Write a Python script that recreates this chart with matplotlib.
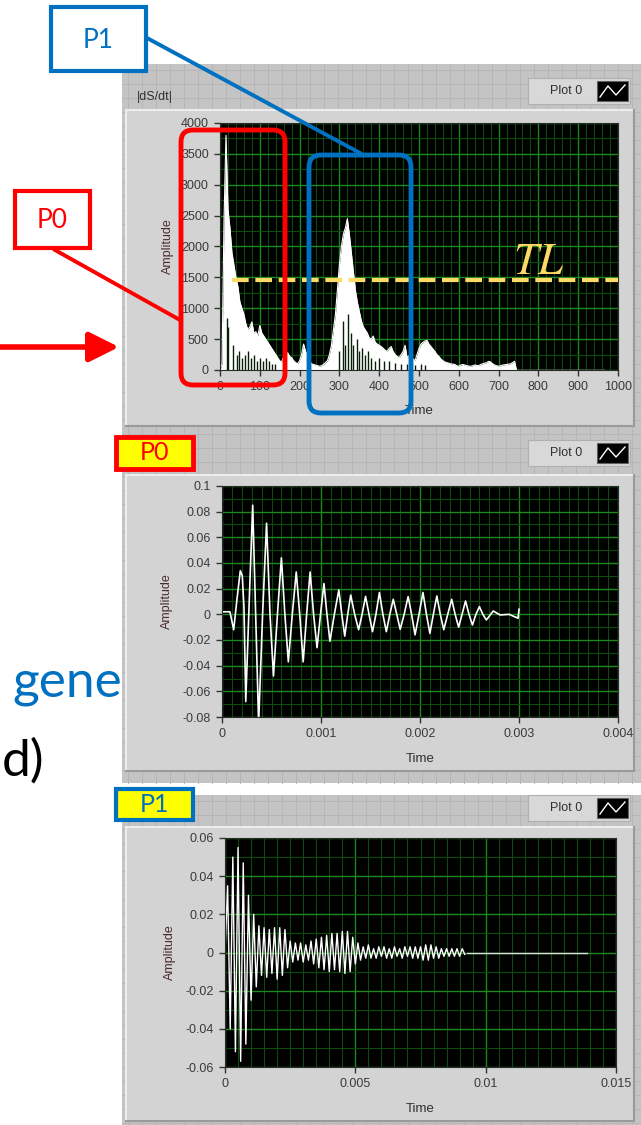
import numpy as np
import matplotlib
matplotlib.use("Agg")
import matplotlib.pyplot as plt
from matplotlib.patches import Rectangle, FancyBboxPatch
from matplotlib.ticker import MultipleLocator

plt.rcParams['font.family'] = ['Liberation Sans', 'DejaVu Sans']

W, H = 641, 1125

# |dS/dt| trace, one sample every 5 time units (0 .. 745)
top_step = 5
top_amp = [0, 100, 2400, 3800, 2600, 2300, 1900, 1700, 1500, 1350,
           1100, 1000, 900, 750, 650, 700, 780, 600, 620, 550,
           720, 600, 550, 500, 450, 400, 350, 300, 250, 200,
           150, 130, 220, 270, 280, 220, 200, 150, 120, 100,
           150, 250, 420, 300, 250, 150, 100, 90, 80, 70,
           60, 70, 90, 120, 150, 250, 400, 650, 900, 1300,
           1700, 2000, 2200, 2300, 2450, 2200, 1900, 1600, 1300, 1100,
           950, 800, 700, 650, 600, 520, 500, 550, 450, 420,
           400, 380, 350, 320, 300, 350, 380, 300, 250, 220,
           200, 250, 300, 400, 200, 230, 250, 180, 150, 250,
           350, 420, 450, 470, 480, 420, 380, 340, 300, 250,
           220, 180, 150, 130, 120, 110, 100, 95, 90, 70,
           60, 80, 90, 80, 70, 65, 60, 70, 80, 75,
           70, 90, 100, 110, 120, 140, 130, 100, 80, 70,
           60, 70, 80, 85, 90, 95, 100, 120, 140, 0]
top_tail_t = [745, 965]
top_tail_amp = [0, 0]
# dark gaps inside the white trace
streak_t = [17, 20, 33, 42, 48, 55, 62, 70, 78, 85, 92, 100, 108, 115, 122, 130, 138,
            300, 308, 313, 322, 328, 335, 343, 350, 358, 365, 372, 380, 390, 400,
            412, 425, 440, 455, 470, 490, 505, 515]
streak_h = [850, 700, 400, 250, 300, 200, 250, 300, 200, 250, 150, 200, 150, 200, 150, 100, 100,
            300, 800, 400, 900, 600, 400, 500, 300, 350, 250, 300, 200, 150, 200,
            150, 150, 120, 100, 100, 80, 100, 80]
TL_level = 1450
TL_start = 30
top_xticks = list(range(0, 1001, 100))
top_yticks = list(range(0, 4001, 500))

# P0 waveform, turning points and zero crossings
p0_t = [0, 0.00008, 0.000118, 0.00015, 0.000185, 0.000205, 0.000222, 0.00024, 0.000275, 0.00031,
        0.00034, 0.00037, 0.00041, 0.00045, 0.000485, 0.00052, 0.00056, 0.0006, 0.000635, 0.00067,
        0.00071, 0.00075, 0.000785, 0.00082, 0.000855, 0.00089, 0.000925, 0.00096, 0.000995, 0.00103,
        0.00106, 0.00109, 0.001135, 0.00118, 0.00121, 0.00124, 0.00127, 0.0013, 0.00134, 0.00138,
        0.001415, 0.00145, 0.001485, 0.00152, 0.001555, 0.00159, 0.001625, 0.00166, 0.001695, 0.00173,
        0.001765, 0.0018, 0.00184, 0.00188, 0.001915, 0.00195, 0.00199, 0.00203, 0.002065, 0.0021,
        0.002135, 0.00217, 0.002205, 0.00224, 0.00228, 0.00232, 0.002355, 0.00239, 0.002425, 0.00246,
        0.002495, 0.00253, 0.002565, 0.0026, 0.002635, 0.00267, 0.00274, 0.00281, 0.0029, 0.00299,
        0.003]
p0_amp = [0.002, 0.002, -0.012, 0.011, 0.034, 0.030, 0.005, -0.068, 0.01, 0.085,
          0.0, -0.085, 0.0, 0.071, 0.0, -0.048, 0.0, 0.044, 0.0, -0.037,
          0.0, 0.033, 0.0, -0.037, 0.0, 0.033, 0.0, -0.026, 0.0, 0.024,
          0.0, -0.021, 0.0, 0.019, 0.0, -0.017, 0.0, 0.015, 0.0, -0.012,
          0.0, 0.014, 0.0, -0.0135, 0.0, 0.017, 0.0, -0.0135, 0.0, 0.0117,
          0.0, -0.0117, 0.0, 0.0138, 0.0, -0.016, 0.0, 0.017, 0.0, -0.0148,
          0.0, 0.0143, 0.0, -0.012, 0.0, 0.0117, 0.0, -0.01, 0.0, 0.0104,
          0.0, -0.0083, 0.0, 0.006, 0.0, -0.0044, 0.0026, -0.0005, 0.0, -0.003,
          0.004]
p0_xticks = [0, 0.001, 0.002, 0.003, 0.004]
p0_xlabels = ['0', '0.001', '0.002', '0.003', '0.004']
p0_yticks = [-0.08, -0.06, -0.04, -0.02, 0, 0.02, 0.04, 0.06, 0.08, 0.1]
p0_ylabels = ['-0.08', '-0.06', '-0.04', '-0.02', '0', '0.02', '0.04', '0.06', '0.08', '0.1']

# P1 waveform, one turning point every 0.1 ms
p1_step = 0.0001
p1_amp = [0.0, 0.035, -0.040, 0.050, -0.052, 0.055, -0.057, 0.047, -0.048, 0.030,
          -0.025, 0.020, -0.018, 0.014, -0.012, 0.013, -0.013, 0.012, -0.011, 0.013,
          -0.014, 0.013, -0.012, 0.012, -0.008, 0.006, -0.005, 0.005, -0.004, 0.005,
          -0.005, 0.004, -0.004, 0.006, -0.006, 0.007, -0.008, 0.008, -0.009, 0.009,
          -0.010, 0.010, -0.009, 0.010, -0.010, 0.011, -0.011, 0.011, -0.010, 0.008,
          -0.006, 0.005, -0.004, 0.003, -0.003, 0.004, -0.003, 0.002, -0.003, 0.003,
          -0.002, 0.003, -0.003, 0.002, -0.003, 0.003, -0.002, 0.002, -0.003, 0.003,
          -0.002, 0.003, -0.003, 0.003, -0.003, 0.003, -0.004, 0.004, -0.004, 0.004,
          -0.003, 0.003, -0.003, 0.002, -0.002, 0.002, -0.002, 0.002, -0.002, 0.002,
          -0.002, 0.002, -0.001]
p1_tail_t = [0.0093, 0.0139]
p1_tail_amp = [0, 0]
p1_xticks = [0, 0.005, 0.01, 0.015]
p1_xlabels = ['0', '0.005', '0.01', '0.015']
p1_yticks = [-0.06, -0.04, -0.02, 0, 0.02, 0.04, 0.06]
p1_ylabels = ['-0.06', '-0.04', '-0.02', '0', '0.02', '0.04', '0.06']

blue = '#0070C0'
red = '#FF0000'


def box(x0, y0, x1, y1):
    return [x0 / W, 1 - y1 / H, (x1 - x0) / W, (y1 - y0) / H]


fig = plt.figure(figsize=(W / 100, H / 100), dpi=100)

# LabVIEW style front panel background
bg = fig.add_axes([0, 0, 1, 1])
bg.set_xlim(0, W)
bg.set_ylim(H, 0)
bg.axis('off')

bg.text(12, 696, 'gene', fontsize=37, color=blue, family='Lato', va='baseline', zorder=1)
bg.text(2, 776, 'd)', fontsize=37, color='black', family='Lato', va='baseline', zorder=1)

for x0, y0, x1, y1 in [(122, 64, 641, 783), (122, 795, 641, 1125)]:
    bg.add_patch(Rectangle((x0, y0), x1 - x0, y1 - y0, fc='#c4c4c4', ec='none', zorder=2))
    for gx in np.arange(x0 + 6, x1, 14):
        bg.plot([gx, gx], [y0, y1], color='#b6b6b6', lw=0.7, zorder=2.1)
    for gy in np.arange(y0 + 6, y1, 14):
        bg.plot([x0, x1], [gy, gy], color='#b6b6b6', lw=0.7, zorder=2.1)

for x0, y0, x1, y1 in [(126, 110, 634, 426), (126, 475, 634, 771), (126, 827, 634, 1121)]:
    bg.add_patch(Rectangle((x0, y0), x1 - x0, y1 - y0, fc='#d3d3d3', ec='none', zorder=3))
    bg.plot([x0, x1], [y0, y0], color='#ededed', lw=1.5, zorder=3.1)
    bg.plot([x0, x0], [y0, y1], color='#ededed', lw=1.5, zorder=3.1)
    bg.plot([x0, x1], [y1, y1], color='#9a9a9a', lw=1.5, zorder=3.1)
    bg.plot([x1, x1], [y0, y1], color='#9a9a9a', lw=1.5, zorder=3.1)

for x0, y0 in [(528, 78), (528, 440), (528, 795)]:
    bg.add_patch(Rectangle((x0, y0), 102, 26, fc='#d8d8d8', ec='#b0b0b0', lw=0.8, zorder=3))
    bg.text(x0 + 38, y0 + 13, 'Plot 0', fontsize=9, color='#303030', ha='center', va='center', zorder=4)
    bg.add_patch(Rectangle((x0 + 69, y0 + 3), 31, 20, fc='black', ec='#606060', lw=0.8, zorder=4))
    bg.plot([x0 + 72, x0 + 80, x0 + 88, x0 + 97], [y0 + 19, y0 + 8, y0 + 17, y0 + 7],
            color='white', lw=1, zorder=5)

bg.text(137, 97, '|dS/dt|', fontsize=9, color='#303030', va='center', zorder=4)


def style(ax, xticks, xlabels, yticks, ylabels, xminor, yminor, ylab_x, xlab_y):
    ax.set_zorder(4)
    ax.set_facecolor('black')
    ax.set_axisbelow(True)
    ax.set_xticks(xticks, xlabels)
    ax.set_yticks(yticks, ylabels)
    ax.xaxis.set_minor_locator(MultipleLocator(xminor))
    ax.yaxis.set_minor_locator(MultipleLocator(yminor))
    ax.grid(which='minor', color='#0c4a0c', lw=0.8)
    ax.grid(which='major', color='#1b8a1b', lw=1.0)
    ax.tick_params(which='minor', length=0)
    ax.tick_params(which='major', length=4, width=1, color='#333333',
                   labelsize=9, labelcolor='#3a3a3a', pad=4)
    for s in ax.spines.values():
        s.set_color('#2a2a2a')
    ax.set_ylabel('Amplitude', fontsize=9, color='#4a2c2c')
    ax.yaxis.set_label_coords(ylab_x, 0.5)
    ax.set_xlabel('Time', fontsize=9.5, color='#303030')
    ax.xaxis.set_label_coords(0.5, xlab_y)


# top: |dS/dt|
ax1 = fig.add_axes(box(220, 123, 618, 370))
top_t = np.arange(len(top_amp)) * top_step
ax1.fill_between(top_t, 0, top_amp, color='white', lw=0)
ax1.plot(top_t, top_amp, color='white', lw=0.8)
ax1.plot(top_tail_t, top_tail_amp, color='white', lw=1)
ax1.vlines(streak_t, 0, streak_h, color='#0a1f0a', lw=1)
ax1.plot([TL_start, 1000], [TL_level, TL_level], color='#FFD966', lw=3,
         dashes=(4, 1.6), zorder=5)
ax1.text(735, 1560, '$TL$', fontsize=32, color='#FFD966', math_fontfamily='stix', zorder=5)
ax1.set_xlim(0, 1000)
ax1.set_ylim(0, 4000)
style(ax1, top_xticks, [str(v) for v in top_xticks], top_yticks, [str(v) for v in top_yticks],
      20, 250, -0.116, -0.142)

# P0 waveform
ax2 = fig.add_axes(box(222, 486, 618, 717))
ax2.plot(p0_t, p0_amp, color='white', lw=1.2)
ax2.set_xlim(0, 0.004)
ax2.set_ylim(-0.08, 0.1)
style(ax2, p0_xticks, p0_xlabels, p0_yticks, p0_ylabels, 0.0001, 0.01, -0.124, -0.156)

# P1 waveform
ax3 = fig.add_axes(box(225, 838, 616, 1067))
p1_t = np.arange(len(p1_amp)) * p1_step
ax3.plot(p1_t, p1_amp, color='white', lw=1)
ax3.plot(p1_tail_t, p1_tail_amp, color='#dddddd', lw=1)
ax3.set_xlim(0, 0.015)
ax3.set_ylim(-0.06, 0.06)
style(ax3, p1_xticks, p1_xlabels, p1_yticks, p1_ylabels, 0.0005, 0.01, -0.125, -0.157)

# annotations drawn over everything
ov = fig.add_axes([0, 0, 1, 1])
ov.set_zorder(10)
ov.set_xlim(0, W)
ov.set_ylim(H, 0)
ov.axis('off')
ov.patch.set_visible(False)

ov.add_patch(Rectangle((51, 7), 95, 64, fc='white', ec=blue, lw=3))
ov.text(98, 40, 'P1', color=blue, fontsize=19, family='Lato', ha='center', va='center')
ov.plot([147, 360], [38, 153], color=blue, lw=2.8)
ov.add_patch(FancyBboxPatch((309, 155), 102, 258, boxstyle='round,pad=0,rounding_size=12',
                            fc='none', ec=blue, lw=3.5))

ov.add_patch(Rectangle((15, 191), 75, 57, fc='white', ec=red, lw=3))
ov.text(52, 220, 'P0', color=red, fontsize=19, family='Lato', ha='center', va='center')
ov.plot([55, 180], [250, 320], color=red, lw=2.8)
ov.add_patch(FancyBboxPatch((181, 130), 104, 255, boxstyle='round,pad=0,rounding_size=12',
                            fc='none', ec=red, lw=3.5))
ov.annotate('', xy=(119, 347), xytext=(0, 347),
            arrowprops=dict(arrowstyle='-|>,head_length=0.9,head_width=0.45',
                            mutation_scale=20, color=red, lw=4, shrinkA=0, shrinkB=0))

ov.add_patch(Rectangle((116, 437), 77, 32, fc='yellow', ec=red, lw=3.5))
ov.text(155, 453, 'P0', color=red, fontsize=18, family='Lato', ha='center', va='center')
ov.add_patch(Rectangle((116, 789), 77, 31, fc='yellow', ec=blue, lw=3))
ov.text(155, 805, 'P1', color=blue, fontsize=18, family='Lato', ha='center', va='center')

fig.savefig('out.png', dpi=100, facecolor='white')
